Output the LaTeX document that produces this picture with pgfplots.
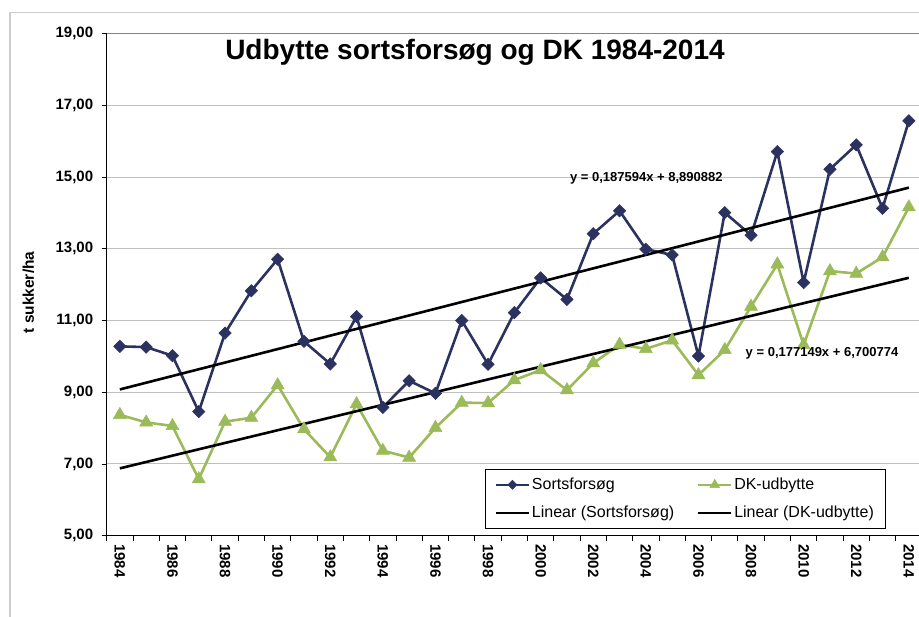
\documentclass[border=0pt]{standalone}
\usepackage{pgfplots}
\pgfplotsset{compat=1.18}
\usepackage{fontspec}
\setmainfont{Liberation Sans}
\definecolor{navy}{RGB}{44,50,96}
\definecolor{olivegr}{RGB}{155,187,89}
\definecolor{gridc}{RGB}{192,192,192}
\definecolor{framec}{RGB}{205,205,205}
\definecolor{topc}{RGB}{140,130,125}
\pgfplotstableread{
year sorts dk
1984 10.28 8.37
1985 10.26 8.16
1986 10.02 8.06
1987 8.46 6.58
1988 10.65 8.18
1989 11.83 8.29
1990 12.71 9.20
1991 10.42 7.97
1992 9.79 7.19
1993 11.11 8.67
1994 8.58 7.37
1995 9.32 7.18
1996 8.97 8.01
1997 11.00 8.71
1998 9.78 8.70
1999 11.22 9.34
2000 12.19 9.62
2001 11.59 9.06
2002 13.42 9.81
2003 14.06 10.33
2004 12.99 10.21
2005 12.83 10.45
2006 10.01 9.48
2007 14.01 10.18
2008 13.38 11.39
2009 15.71 12.57
2010 12.06 10.32
2011 15.22 12.38
2012 15.90 12.31
2013 14.13 12.77
2014 16.57 14.16
}\datatable
\begin{document}
\begin{tikzpicture}[x=1pt,y=1pt]
\useasboundingbox (0,0) rectangle (919,617);
\draw[framec, line width=1.5pt] (10,-20) -- (10,604.3) -- (940,604.3);
\begin{axis}[
  at={(106.7pt,81.3pt)}, anchor=south west,
  scale only axis, width=815.3pt, height=502pt,
  xmin=1983.5, xmax=2014.5, ymin=5, ymax=19,
  axis x line*=bottom, axis y line*=left,
  axis line style={black, line width=1.2pt, -},
  xtick={1984,1986,...,2014},
  xticklabels={1984,1986,1988,1990,1992,1994,1996,1998,2000,2002,2004,2006,2008,2010,2012,2014},
  major x tick style={draw=none},
  minor xtick={1983.5,1984.5,...,2014.5},
  minor x tick style={black, line width=0.8pt},
  minor tick length=5pt,
  major tick length=5pt,
  tick align=outside,
  ytick={5,7,...,19},
  y tick style={black, line width=0.8pt},
  ymajorgrids, grid style={gridc, line width=1pt},
  x tick label style={rotate=-90, anchor=west, font=\fontsize{15}{18}\selectfont\bfseries},
  y tick label style={font=\fontsize{15}{18}\selectfont\bfseries, xshift=-5pt,
    /pgf/number format/fixed, /pgf/number format/fixed zerofill,
    /pgf/number format/precision=2, /pgf/number format/use comma},
  /pgf/number format/assume math mode=true,
  legend columns=2,
  legend cell align=left,
  legend style={at={(rel axis cs:0.4635,0.0147)}, anchor=south west,
    draw={RGB:red,160;green,160;blue,160}, line width=0.8pt,
    font=\fontsize{16}{19}\selectfont, row sep=11pt,
    inner xsep=10pt, inner ysep=6.5pt,
    /tikz/every even column/.append style={column sep=21pt}},
  legend image code/.code={\draw[mark repeat=2,mark phase=2,line width=2pt] plot coordinates {(0pt,0pt) (16.5pt,0pt) (33pt,0pt)};},
  clip=false,
]
\draw[topc, line width=1pt] (axis cs:1983.5,19) -- (axis cs:2014.5,19);
\addplot[navy, line width=2.6pt, mark=square*, mark size=4.4pt, mark options={solid, fill=navy, line width=0.5pt, rotate=45},
  legend image post style={mark size=3.2pt}] table[x=year, y=sorts] {\datatable};
\addlegendentry{Sortsforsøg}
\addplot[olivegr, line width=2.6pt, mark=triangle*, mark size=7.5pt, mark options={solid, fill=olivegr, line width=0.5pt},
  legend image post style={mark size=5.5pt}] table[x=year, y=dk] {\datatable};
\addlegendentry{DK-udbytte}
\addplot[black, line width=2.6pt] coordinates {(1984,9.0785) (2014,14.7063)};
\addlegendentry{Linear (Sortsforsøg)}
\addplot[black, line width=2.6pt] coordinates {(1984,6.8779) (2014,12.1924)};
\addlegendentry{Linear (DK-udbytte)}
\end{axis}
\node[anchor=base, font=\fontsize{28}{32}\selectfont\bfseries] at (475,557) {Udbytte sortsforsøg og DK 1984-2014};
\node[anchor=base, font=\fontsize{13}{15}\selectfont\bfseries] at (646.3,435) {y = 0,187594x + 8,890882};
\node[anchor=base, font=\fontsize{13}{15}\selectfont\bfseries] at (822,260) {y = 0,177149x + 6,700774};
\node[rotate=90, font=\fontsize{15.5}{18}\selectfont\bfseries] at (28.5,324.5) {t sukker/ha};
\end{tikzpicture}
\end{document}
